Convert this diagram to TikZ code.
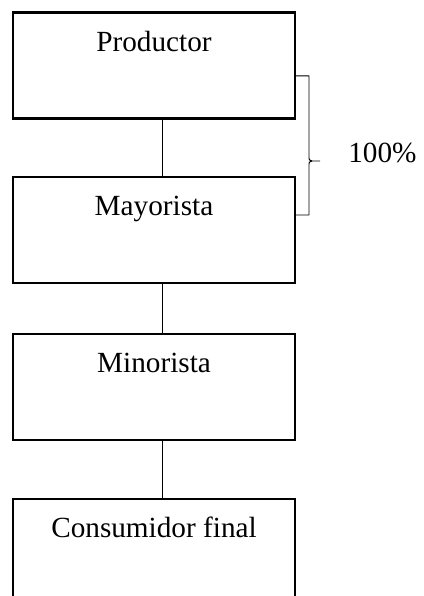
\documentclass[tikz,border=0pt]{standalone}
\usepackage{fontspec}
\setmainfont{Liberation Serif}
\begin{document}
		\begin{tikzpicture}[
			stage/.style={draw=black, line width=1.5pt, minimum width=7.05cm, inner sep=0pt, text height=0.975cm, text depth=1.675cm, font=\fontsize{20.8}{25}\selectfont},
			link/.style={black, line width=0.7pt},
			share/.style={black, line width=0.7pt, line join=round}]
			\useasboundingbox (0,0) rectangle (10.6,14.9);
			\node[stage] (productor) at (3.85,13.2625) {Productor};
			\node[stage] (mayorista) at (3.85,9.15) {Mayorista};
			\node[stage] (minorista) at (3.85,5.225) {Minorista};
			\node[stage] (consumidor) at (3.85,1.1) {Consumidor final};
			\draw[link] ([xshift=0.2cm]productor.south) -- ([xshift=0.2cm]mayorista.north);
			\draw[link] ([xshift=0.2cm]mayorista.south) -- ([xshift=0.2cm]minorista.north);
			\draw[link] ([xshift=0.2cm]minorista.south) -- ([xshift=0.2cm]consumidor.north);
			\coordinate (tip) at (8.0,10.875);
			\draw[share] ([yshift=-0.26cm]productor.east) -| (7.725,10.95) .. controls (7.725,10.9) .. (7.8,10.875) -- (tip);
			\draw[share] ([yshift=0.375cm]mayorista.east) -| (7.725,10.8) .. controls (7.725,10.85) .. (7.8,10.875);
			\node[anchor=base west, inner sep=0pt, font=\fontsize{20.8}{25}\selectfont] (porcentaje) at (8.7,10.825) {100\%};
		\end{tikzpicture}
\end{document}
